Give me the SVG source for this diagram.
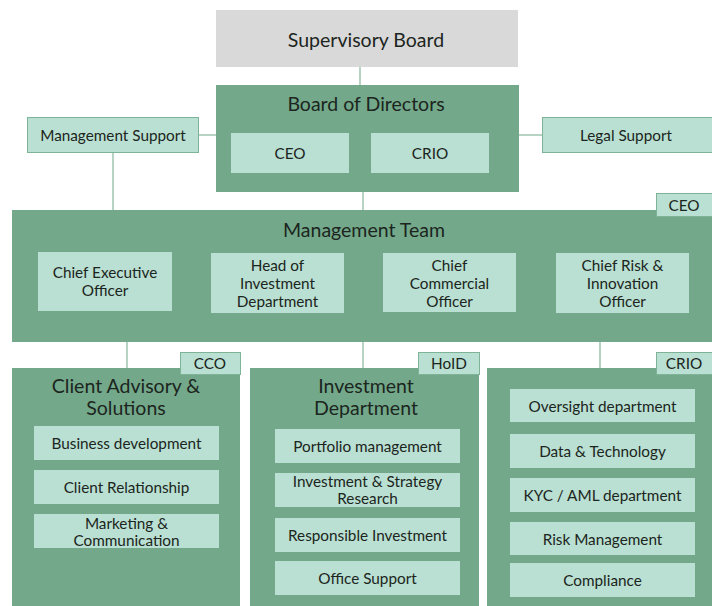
<svg xmlns="http://www.w3.org/2000/svg" width="712" height="606" viewBox="0 0 712 606">
<style>
.dark{fill:#73a98a}
.light{fill:#b9e0d3}
.lb{fill:#b9e0d3;stroke:#7fb397;stroke-width:1}
.grey{fill:#d9d9d9}
text{font-family:Lato,"Open Sans","Liberation Sans",sans-serif;fill:#1c2520;text-anchor:middle;dominant-baseline:central}
.t{font-size:19.5px}
.s{font-size:15.3px}
.c line{stroke:#9fc4b1;stroke-width:1.5}
</style>
<rect width="712" height="606" fill="#ffffff"/>
<g class="c" id="connectors">
<line x1="360" y1="67" x2="360" y2="85"/>
<line x1="199" y1="135" x2="216" y2="135"/>
<line x1="519" y1="135" x2="542" y2="135"/>
<line x1="113" y1="153" x2="113" y2="210"/>
<line x1="363" y1="192" x2="363" y2="210"/>
<line x1="127" y1="342" x2="127" y2="368"/>
<line x1="363" y1="342" x2="363" y2="368"/>
<line x1="600" y1="342" x2="600" y2="368"/>
</g>
<g id="supervisory-board">
<rect class="grey" x="216" y="10" width="302" height="57"/>
<text class="t" x="366" y="39">Supervisory Board</text>
</g>
<g id="board-of-directors">
<rect class="dark" x="216" y="85" width="303" height="107"/>
<text class="t" x="366" y="103">Board of Directors</text>
<rect class="light" x="231" y="133" width="118" height="40"/>
<text class="s" x="290" y="153">CEO</text>
<rect class="light" x="371" y="133" width="118" height="40"/>
<text class="s" x="430" y="153">CRIO</text>
</g>
<g id="management-support">
<rect class="lb" x="27.5" y="117.5" width="171" height="35"/>
<text class="s" x="113" y="135">Management Support</text>
</g>
<g id="legal-support">
<rect class="lb" x="542.5" y="117.5" width="170" height="35"/>
<text class="s" x="626" y="135">Legal Support</text>
</g>
<g id="management-team">
<rect class="dark" x="12" y="210" width="700" height="132"/>
<text class="t" x="364" y="229">Management Team</text>
<rect class="lb" x="656.5" y="193.5" width="56" height="23"/>
<text class="s" x="684" y="205">CEO</text>
<rect class="light" x="38" y="252" width="134" height="59"/>
<text class="s" x="105" y="272">Chief Executive</text>
<text class="s" x="105" y="290">Officer</text>
<rect class="light" x="211" y="253" width="133" height="60"/>
<text class="s" x="277.5" y="265">Head of</text>
<text class="s" x="277.5" y="283">Investment</text>
<text class="s" x="277.5" y="301">Department</text>
<rect class="light" x="383" y="253" width="133" height="59"/>
<text class="s" x="449.5" y="265">Chief</text>
<text class="s" x="449.5" y="283">Commercial</text>
<text class="s" x="449.5" y="301">Officer</text>
<rect class="light" x="556" y="253" width="133" height="60"/>
<text class="s" x="622.5" y="265">Chief Risk &amp;</text>
<text class="s" x="622.5" y="283">Innovation</text>
<text class="s" x="622.5" y="301">Officer</text>
</g>
<g id="client-advisory">
<rect class="dark" x="12" y="368" width="228" height="238"/>
<rect class="lb" x="180.5" y="352.5" width="60" height="22"/>
<text class="s" x="210" y="363">CCO</text>
<text class="t" x="126" y="385">Client Advisory &amp;</text>
<text class="t" x="126" y="407">Solutions</text>
<rect class="light" x="34" y="426" width="185" height="34"/>
<text class="s" x="126.5" y="443">Business development</text>
<rect class="light" x="34" y="470" width="185" height="34"/>
<text class="s" x="126.5" y="487">Client Relationship</text>
<rect class="light" x="34" y="514" width="185" height="34"/>
<text class="s" x="126.5" y="523">Marketing &amp;</text>
<text class="s" x="126.5" y="540">Communication</text>
</g>
<g id="investment-department">
<rect class="dark" x="250" y="368" width="229" height="238"/>
<rect class="lb" x="418.5" y="352.5" width="61" height="22"/>
<text class="s" x="449" y="363">HoID</text>
<text class="t" x="366" y="385">Investment</text>
<text class="t" x="366" y="407">Department</text>
<rect class="light" x="275" y="429" width="185" height="34"/>
<text class="s" x="367.5" y="446">Portfolio management</text>
<rect class="light" x="275" y="473" width="185" height="34"/>
<text class="s" x="367.5" y="481">Investment &amp; Strategy</text>
<text class="s" x="367.5" y="498">Research</text>
<rect class="light" x="275" y="518" width="185" height="34"/>
<text class="s" x="367.5" y="535">Responsible Investment</text>
<rect class="light" x="275" y="561" width="185" height="34"/>
<text class="s" x="367.5" y="578">Office Support</text>
</g>
<g id="crio-department">
<rect class="dark" x="487" y="368" width="225" height="238"/>
<rect class="lb" x="656.5" y="352.5" width="56" height="22"/>
<text class="s" x="684" y="363">CRIO</text>
<rect class="light" x="510" y="389" width="185" height="33"/>
<text class="s" x="602.5" y="405.5">Oversight department</text>
<rect class="light" x="510" y="434" width="185" height="34"/>
<text class="s" x="602.5" y="451">Data &amp; Technology</text>
<rect class="light" x="510" y="478" width="185" height="34"/>
<text class="s" x="602.5" y="495">KYC / AML department</text>
<rect class="light" x="510" y="522" width="185" height="33"/>
<text class="s" x="602.5" y="538.5">Risk Management</text>
<rect class="light" x="510" y="563" width="185" height="34"/>
<text class="s" x="602.5" y="580">Compliance</text>
</g>
</svg>
